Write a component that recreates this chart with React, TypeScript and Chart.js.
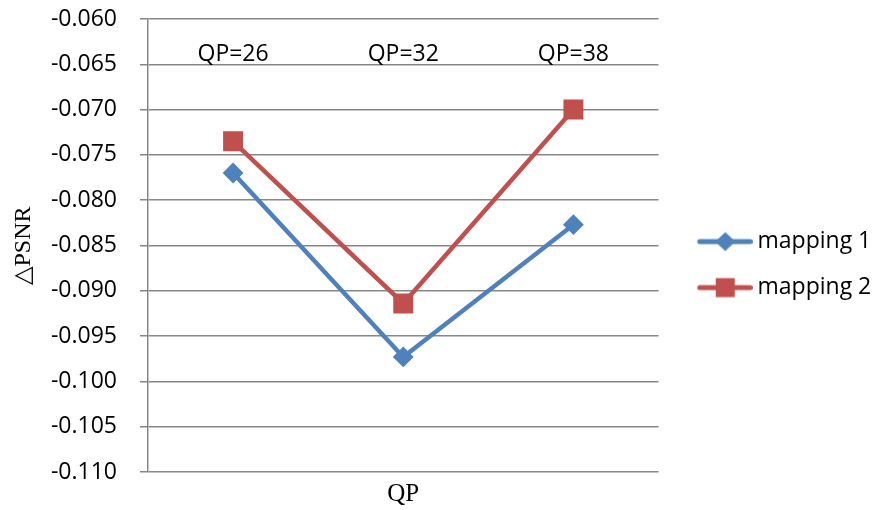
import React, { useEffect, useRef } from 'react';
import { Chart, registerables } from 'chart.js';

Chart.register(...registerables);

const categories = ['QP=26', 'QP=32', 'QP=38'];
const seriesNames = ['mapping 1', 'mapping 2'];
const mapping1 = [-0.077, -0.0973, -0.0827];
const mapping2 = [-0.0735, -0.0914, -0.07];
const yMin = -0.11;
const yMax = -0.06;
const yStep = 0.005;
const xTitle = 'QP';
const yTitle = '△PSNR';

const BLUE = '#4F81BD';
const RED = '#C0504D';
const GRID = '#878787';
const SANS = "'Open Sans', sans-serif";
const SERIF = "'Liberation Serif', 'Times New Roman', serif";

function legendIcon(color: string, shape: 'diamond' | 'square') {
  const c = document.createElement('canvas');
  c.width = 78;
  c.height = 24;
  const ctx = c.getContext('2d')!;
  ctx.strokeStyle = color;
  ctx.lineWidth = 5;
  ctx.lineCap = 'round';
  ctx.beginPath();
  ctx.moveTo(25, 12);
  ctx.lineTo(75.5, 12);
  ctx.stroke();
  ctx.fillStyle = color;
  const cx = 50.5;
  const cy = 12;
  if (shape === 'diamond') {
    ctx.beginPath();
    ctx.moveTo(cx, cy - 9.5);
    ctx.lineTo(cx + 10, cy);
    ctx.lineTo(cx, cy + 9.5);
    ctx.lineTo(cx - 10, cy);
    ctx.closePath();
    ctx.fill();
  } else {
    ctx.fillRect(cx - 9.5, cy - 9.5, 19, 19);
  }
  return c;
}

export default function App() {
  const ref = useRef<HTMLCanvasElement | null>(null);

  useEffect(() => {
    if (!ref.current) return;
    const icons = [legendIcon(BLUE, 'diamond'), legendIcon(RED, 'square')];
    const colors = [BLUE, RED];
    const chart = new Chart(ref.current, {
      type: 'line',
      data: {
        labels: categories,
        datasets: [
          {
            label: seriesNames[0],
            data: mapping1,
            borderColor: BLUE,
            backgroundColor: BLUE,
            borderWidth: 4.5,
            pointStyle: 'rectRot',
            pointRadius: 9,
            pointBorderWidth: 2,
            pointBackgroundColor: BLUE,
            pointBorderColor: BLUE,
            tension: 0,
            xAxisID: 'x',
          },
          {
            label: seriesNames[1],
            data: mapping2,
            borderColor: RED,
            backgroundColor: RED,
            borderWidth: 4.5,
            pointStyle: 'rect',
            pointRadius: 12.7,
            pointBorderWidth: 2,
            pointBackgroundColor: RED,
            pointBorderColor: RED,
            tension: 0,
            xAxisID: 'x',
          },
        ],
      },
      options: {
        responsive: false,
        animation: false,
        layout: { padding: { left: 0, top: 0, bottom: 0, right: -5 } },
        plugins: {
          tooltip: { enabled: false },
          legend: {
            display: true,
            position: 'right',
            align: 'center',
            title: { display: true, text: '', padding: 0, font: { size: 16 } },
            labels: {
              usePointStyle: true,
              pointStyleWidth: 64.5,
              padding: 23,
              color: '#000',
              font: { family: SANS, size: 23 },
              generateLabels: () =>
                seriesNames.map((name, i) => ({
                  text: name,
                  pointStyle: icons[i],
                  fillStyle: colors[i],
                  strokeStyle: colors[i],
                  lineWidth: 0,
                  hidden: false,
                  datasetIndex: i,
                  fontColor: '#000',
                })),
            },
          },
        },
        scales: {
          x: {
            type: 'category',
            position: 'top',
            offset: true,
            grid: { display: false, drawTicks: false },
            border: { display: false },
            ticks: {
              color: '#000',
              font: { family: SANS, size: 23 },
              mirror: true,
              padding: 21.5,
              maxRotation: 0,
              autoSkip: false,
            },
            afterFit: (s: any) => {
              s.height = 19;
            },
          },
          x2: {
            type: 'category',
            position: 'bottom',
            offset: true,
            grid: { display: false, drawTicks: false },
            border: { display: false },
            ticks: { display: false },
            title: {
              display: true,
              text: xTitle,
              color: '#000',
              font: { family: SERIF, size: 25 },
              padding: { top: 0, bottom: 1 },
            },
            afterFit: (s: any) => {
              s.height = 38;
            },
          },
          y: {
            type: 'linear',
            min: yMin,
            max: yMax,
            ticks: {
              stepSize: yStep,
              color: '#000',
              font: { family: SANS, size: 23 },
              padding: 23,
              callback: (v: any) => Number(v).toFixed(3),
            },
            grid: { color: GRID, lineWidth: 1.5, tickLength: 8, drawTicks: true },
            border: { display: true, color: GRID, width: 1.5 },
            title: {
              display: true,
              text: yTitle,
              color: '#000',
              font: { family: SERIF, size: 24 },
              padding: { top: 9, bottom: 0 },
            },
            afterFit: (s: any) => {
              s.width = 148;
              s.paddingTop = 14;
              s.paddingBottom = 14;
            },
          },
        },
      } as any,
    });
    return () => chart.destroy();
  }, []);

  return (
    <div style={{ position: 'absolute', left: 0, top: 0, width: 873, height: 510, background: '#fff' }}>
      <canvas ref={ref} width={873} height={510} style={{ display: 'block' }} />
    </div>
  );
}
